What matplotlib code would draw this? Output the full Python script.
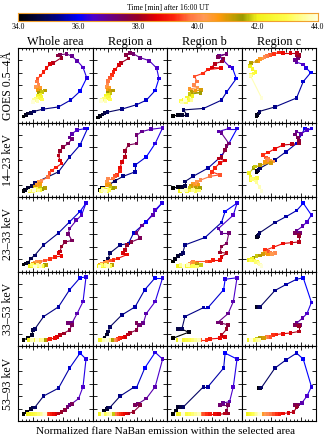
import numpy as np
import matplotlib
matplotlib.use("Agg")
import matplotlib.pyplot as plt
from matplotlib.colors import LinearSegmentedColormap, Normalize
from matplotlib.collections import LineCollection
from matplotlib.ticker import MultipleLocator

# ---------------- data ----------------
times = [34.0, 34.25, 34.5, 34.75, 35.0, 35.25, 35.5, 35.75, 36.0, 36.25, 36.5,
         36.75, 37.0, 37.25, 37.5, 37.75, 38.0, 38.25, 38.5, 38.75, 39.0, 39.25,
         39.5, 39.75, 40.0, 40.25, 40.5, 40.75, 41.0, 41.25, 41.5, 41.75, 42.0,
         42.25, 42.5, 42.75, 43.0, 43.25, 43.5, 43.75, 44.0]

columns = ["Whole area", "Region a", "Region b", "Region c"]
rows = ["GOES 0.5–4Å", "14–23 keV", "23–33 keV", "33–53 keV", "53–93 keV"]
cbar_ticks = [34.0, 36.0, 38.0, 40.0, 42.0, 44.0]

# GOES
goes_whole = [(0.07,0.08),(0.10,0.10),(0.13,0.12),(0.17,0.13),(0.21,0.15),
              (0.33,0.18),(0.54,0.21),(0.70,0.30),(0.83,0.42),
              (0.92,0.60),(0.87,0.74),(0.79,0.83),
              (0.72,0.89),(0.65,0.92),(0.56,0.91),(0.53,0.90),(0.58,0.87),
              (0.47,0.80),(0.43,0.79),(0.38,0.73),(0.34,0.68),(0.30,0.63),
              (0.26,0.59),(0.25,0.55),
              (0.27,0.51),(0.24,0.48),(0.29,0.46),(0.26,0.44),(0.30,0.42),
              (0.36,0.43),(0.28,0.40),(0.32,0.41),
              (0.30,0.37),(0.26,0.36),(0.31,0.34),(0.27,0.33),(0.32,0.31),
              (0.24,0.32),(0.21,0.30),(0.26,0.29),(0.20,0.28)]
goes_a = [(0.07,0.07),(0.10,0.09),(0.13,0.11),(0.16,0.13),(0.20,0.14),
          (0.39,0.18),(0.59,0.24),(0.72,0.30),(0.84,0.43),
          (0.89,0.59),(0.86,0.73),(0.76,0.83),
          (0.64,0.87),(0.55,0.92),(0.50,0.93),(0.45,0.91),(0.48,0.86),
          (0.38,0.80),(0.35,0.77),(0.30,0.71),(0.28,0.68),(0.26,0.64),
          (0.23,0.60),(0.21,0.56),
          (0.20,0.51),(0.19,0.48),(0.22,0.46),(0.20,0.44),(0.23,0.42),
          (0.27,0.43),(0.20,0.40),(0.24,0.39),
          (0.21,0.37),(0.17,0.36),(0.22,0.34),(0.18,0.33),(0.23,0.31),
          (0.15,0.32),(0.12,0.30),(0.17,0.29),(0.11,0.29)]
goes_b = [(0.08,0.09),(0.15,0.10),(0.20,0.10),(0.27,0.10),(0.22,0.17),
          (0.49,0.19),(0.73,0.30),(0.80,0.41),(0.93,0.59),
          (0.88,0.73),(0.84,0.75),(0.75,0.84),
          (0.70,0.90),(0.80,0.92),(0.68,0.88),(0.76,0.86),(0.74,0.82),
          (0.64,0.79),(0.60,0.74),(0.72,0.73),(0.55,0.71),(0.48,0.66),
          (0.37,0.62),(0.40,0.55),
          (0.36,0.50),(0.41,0.47),(0.30,0.45),(0.38,0.43),(0.46,0.44),
          (0.33,0.41),(0.45,0.40),(0.30,0.38),
          (0.34,0.36),(0.27,0.33),(0.22,0.31),(0.30,0.30),(0.18,0.29),
          (0.25,0.28),(0.33,0.30),(0.20,0.27),(0.24,0.30)]
goes_c = [(0.20,0.08),(0.21,0.10),(0.23,0.12),(0.24,0.14),(0.24,0.15),
          (0.45,0.21),(0.74,0.33),(0.83,0.55),(0.93,0.67),
          (0.87,0.73),(0.83,0.78),(0.74,0.81),
          (0.72,0.84),(0.76,0.86),(0.77,0.89),(0.74,0.91),(0.77,0.91),
          (0.75,0.93),(0.66,0.93),(0.56,0.93),(0.50,0.94),(0.44,0.92),
          (0.38,0.91),(0.34,0.89),
          (0.31,0.88),(0.28,0.86),(0.25,0.85),(0.22,0.83),(0.20,0.82),
          (0.13,0.80),(0.12,0.78),(0.11,0.76),
          (0.11,0.75),(0.15,0.72),(0.19,0.68),(0.16,0.66),(0.12,0.64),
          (0.13,0.63),(0.12,0.62),(0.12,0.63),(0.27,0.33)]

# 14-23 keV
hxr1_whole = [(0.07,0.08),(0.09,0.10),(0.13,0.12),(0.18,0.15),(0.22,0.19),
              (0.54,0.34),(0.69,0.54),(0.83,0.70),(0.93,0.92),
              (0.90,0.92),(0.79,0.90),(0.72,0.85),
              (0.69,0.80),(0.72,0.78),(0.67,0.72),(0.60,0.67),(0.56,0.62),
              (0.54,0.56),(0.56,0.49),(0.58,0.45),(0.51,0.40),(0.45,0.36),
              (0.42,0.32),(0.40,0.27),
              (0.31,0.22),(0.27,0.20),(0.25,0.16),(0.29,0.18),(0.22,0.14),
              (0.36,0.12),(0.32,0.11),(0.30,0.12),
              (0.22,0.10),(0.18,0.09),(0.29,0.10),(0.16,0.08),(0.24,0.11),
              (0.20,0.08),(0.27,0.09),(0.15,0.09),(0.21,0.10)]
hxr1_a = [(0.10,0.10),(0.12,0.12),(0.14,0.13),(0.21,0.16),(0.30,0.22),
          (0.41,0.28),(0.57,0.34),(0.57,0.43),(0.72,0.54),
          (0.84,0.72),(0.94,0.93),(0.78,0.91),
          (0.66,0.88),(0.59,0.83),(0.59,0.72),(0.48,0.70),(0.43,0.62),
          (0.43,0.54),(0.39,0.47),(0.37,0.40),(0.37,0.35),(0.33,0.30),
          (0.30,0.28),(0.27,0.25),
          (0.21,0.25),(0.19,0.21),(0.22,0.18),(0.19,0.16),(0.24,0.15),
          (0.30,0.13),(0.27,0.12),(0.24,0.13),
          (0.12,0.09),(0.16,0.10),(0.20,0.08),(0.14,0.11),(0.22,0.10),
          (0.11,0.08),(0.18,0.09),(0.13,0.10),(0.17,0.08)]
hxr1_b = [(0.08,0.12),(0.15,0.14),(0.20,0.14),(0.24,0.15),(0.24,0.21),
          (0.35,0.28),(0.55,0.39),(0.73,0.55),(0.83,0.72),
          (0.94,0.92),(0.83,0.92),(0.69,0.88),
          (0.73,0.86),(0.83,0.72),(0.80,0.69),(0.78,0.63),(0.73,0.54),
          (0.69,0.52),(0.78,0.49),(0.71,0.46),(0.64,0.39),(0.60,0.34),
          (0.71,0.30),(0.58,0.28),
          (0.45,0.23),(0.40,0.20),(0.35,0.18),(0.42,0.16),(0.32,0.15),
          (0.38,0.13),(0.44,0.12),(0.30,0.12),
          (0.17,0.08),(0.22,0.09),(0.27,0.08),(0.32,0.09),(0.38,0.08),
          (0.43,0.09),(0.35,0.10),(0.25,0.10),(0.20,0.09)]
hxr1_c = [(0.20,0.34),(0.21,0.35),(0.22,0.36),(0.23,0.37),(0.25,0.39),
          (0.45,0.50),(0.60,0.61),(0.74,0.72),(0.85,0.92),
          (0.94,0.92),(0.88,0.90),(0.80,0.85),
          (0.74,0.88),(0.72,0.84),(0.76,0.80),(0.77,0.75),(0.77,0.72),
          (0.68,0.71),(0.56,0.70),(0.45,0.65),(0.36,0.60),(0.29,0.57),
          (0.33,0.53),(0.36,0.51),
          (0.34,0.50),(0.43,0.48),(0.39,0.49),(0.32,0.47),(0.40,0.46),
          (0.25,0.43),(0.16,0.39),(0.18,0.41),
          (0.10,0.32),(0.12,0.27),(0.12,0.23),(0.21,0.26),(0.17,0.25),
          (0.14,0.24),(0.20,0.20),(0.24,0.14),(0.27,0.08)]

# 23-33 keV
hxr2_whole = [(0.07,0.10),(0.10,0.11),(0.13,0.12),(0.17,0.18),(0.22,0.22),
              (0.34,0.36),(0.54,0.52),(0.69,0.67),(0.83,0.81),
              (0.91,0.92),(0.85,0.76),(0.78,0.69),
              (0.69,0.58),(0.67,0.51),(0.72,0.42),(0.63,0.40),(0.58,0.34),
              (0.56,0.27),(0.54,0.25),(0.58,0.21),(0.49,0.20),(0.43,0.17),
              (0.36,0.15),(0.29,0.14),
              (0.25,0.13),(0.22,0.12),(0.28,0.12),(0.20,0.11),(0.24,0.10),
              (0.38,0.09),(0.35,0.09),(0.33,0.08),
              (0.16,0.08),(0.20,0.07),(0.24,0.08),(0.28,0.07),(0.32,0.08),
              (0.18,0.09),(0.26,0.09),(0.30,0.08),(0.22,0.07)]
hxr2_a = [(0.10,0.10),(0.13,0.11),(0.16,0.13),(0.21,0.18),(0.23,0.25),
          (0.37,0.36),(0.48,0.38),(0.55,0.52),(0.72,0.67),
          (0.93,0.92),(0.84,0.83),(0.81,0.76),
          (0.66,0.62),(0.59,0.52),(0.64,0.45),(0.52,0.40),(0.46,0.36),
          (0.43,0.29),(0.41,0.25),(0.46,0.23),(0.34,0.18),(0.28,0.16),
          (0.24,0.15),(0.19,0.14),
          (0.16,0.12),(0.12,0.11),(0.18,0.12),(0.10,0.10),(0.14,0.10),
          (0.26,0.09),(0.23,0.08),(0.20,0.09),
          (0.08,0.08),(0.11,0.07),(0.15,0.08),(0.19,0.07),(0.23,0.08),
          (0.12,0.09),(0.17,0.09),(0.21,0.08),(0.09,0.07)]
hxr2_b = [(0.08,0.14),(0.11,0.17),(0.15,0.21),(0.19,0.23),(0.21,0.25),
          (0.24,0.36),(0.51,0.46),(0.73,0.66),(0.78,0.81),
          (0.94,0.92),(0.89,0.76),(0.69,0.58),
          (0.73,0.52),(0.83,0.52),(0.80,0.38),(0.73,0.34),(0.71,0.26),
          (0.80,0.25),(0.73,0.20),(0.71,0.16),(0.62,0.16),(0.58,0.14),
          (0.53,0.14),(0.35,0.14),
          (0.33,0.12),(0.30,0.11),(0.36,0.12),(0.28,0.10),(0.40,0.11),
          (0.44,0.09),(0.40,0.08),(0.46,0.09),
          (0.15,0.08),(0.20,0.07),(0.25,0.08),(0.30,0.07),(0.35,0.08),
          (0.40,0.07),(0.18,0.09),(0.28,0.09),(0.22,0.08)]
hxr2_c = [(0.20,0.46),(0.21,0.47),(0.22,0.48),(0.23,0.50),(0.24,0.52),
          (0.45,0.66),(0.60,0.74),(0.74,0.82),(0.83,0.92),
          (0.94,0.76),(0.88,0.67),(0.82,0.61),
          (0.74,0.55),(0.79,0.52),(0.72,0.52),(0.77,0.50),(0.77,0.48),
          (0.77,0.40),(0.67,0.39),(0.56,0.38),(0.43,0.33),(0.32,0.29),
          (0.36,0.27),(0.39,0.25),
          (0.45,0.25),(0.41,0.24),(0.32,0.25),(0.36,0.23),(0.29,0.24),
          (0.25,0.22),(0.16,0.19),(0.20,0.21),
          (0.10,0.16),(0.14,0.17),(0.21,0.14),(0.17,0.15),(0.12,0.15),
          (0.19,0.13),(0.23,0.12),(0.25,0.10),(0.27,0.08)]

# 33-53 keV
hxr3_whole = [(0.07,0.09),(0.13,0.11),(0.18,0.15),(0.20,0.22),(0.22,0.23),
              (0.34,0.40),(0.54,0.53),(0.69,0.76),(0.83,0.92),
              (0.91,0.93),(0.87,0.60),(0.79,0.44),
              (0.72,0.31),(0.67,0.31),(0.72,0.29),(0.69,0.22),(0.61,0.175),
              (0.56,0.15),(0.52,0.13),(0.49,0.11),(0.43,0.10),(0.38,0.09),
              (0.36,0.09),(0.34,0.09),
              (0.31,0.09),(0.28,0.085),(0.26,0.09),(0.24,0.085),(0.22,0.09),
              (0.36,0.086),(0.34,0.086),(0.32,0.086),
              (0.14,0.086),(0.17,0.086),(0.20,0.086),(0.23,0.086),(0.26,0.086),
              (0.29,0.086),(0.32,0.086),(0.18,0.086),(0.25,0.086)]
hxr3_a = [(0.10,0.09),(0.16,0.12),(0.19,0.16),(0.21,0.20),(0.23,0.26),
          (0.39,0.42),(0.57,0.53),(0.70,0.76),(0.84,0.92),
          (0.94,0.92),(0.84,0.60),(0.72,0.44),
          (0.68,0.31),(0.64,0.29),(0.59,0.31),(0.59,0.22),(0.50,0.18),
          (0.47,0.16),(0.43,0.13),(0.40,0.12),(0.37,0.11),(0.34,0.10),
          (0.32,0.09),(0.30,0.09),
          (0.29,0.09),(0.27,0.086),(0.25,0.09),(0.23,0.086),(0.21,0.09),
          (0.26,0.086),(0.24,0.086),(0.22,0.086),
          (0.10,0.086),(0.12,0.086),(0.14,0.086),(0.16,0.086),(0.18,0.086),
          (0.20,0.086),(0.22,0.086),(0.15,0.086),(0.19,0.086)]
hxr3_b = [(0.08,0.11),(0.29,0.19),(0.20,0.23),(0.15,0.23),(0.20,0.24),
          (0.24,0.40),(0.49,0.52),(0.55,0.52),(0.76,0.76),
          (0.78,0.90),(0.94,0.92),(0.89,0.60),
          (0.82,0.44),(0.68,0.32),(0.73,0.31),(0.82,0.29),(0.80,0.23),
          (0.73,0.15),(0.78,0.13),(0.71,0.11),(0.58,0.10),(0.53,0.086),
          (0.44,0.086),(0.36,0.086),
          (0.30,0.086),(0.27,0.086),(0.24,0.086),(0.33,0.086),(0.21,0.086),
          (0.35,0.086),(0.38,0.086),(0.41,0.086),
          (0.15,0.086),(0.19,0.086),(0.23,0.086),(0.27,0.086),(0.31,0.086),
          (0.35,0.086),(0.39,0.086),(0.43,0.086),(0.17,0.086)]
hxr3_c = [(0.20,0.53),(0.21,0.53),(0.22,0.53),(0.23,0.53),(0.25,0.53),
          (0.45,0.75),(0.60,0.83),(0.74,0.90),(0.83,0.92),
          (0.94,0.59),(0.88,0.44),(0.82,0.38),
          (0.74,0.31),(0.79,0.29),(0.72,0.29),(0.76,0.28),(0.77,0.27),
          (0.77,0.20),(0.66,0.18),(0.56,0.17),(0.47,0.16),(0.42,0.15),
          (0.38,0.13),(0.34,0.13),
          (0.29,0.12),(0.32,0.12),(0.27,0.11),(0.24,0.11),(0.30,0.11),
          (0.25,0.11),(0.22,0.10),(0.20,0.10),
          (0.10,0.086),(0.12,0.086),(0.14,0.086),(0.16,0.086),(0.18,0.086),
          (0.20,0.086),(0.22,0.086),(0.24,0.086),(0.13,0.086)]

# 53-93 keV
hxr4_whole = [(0.07,0.09),(0.12,0.12),(0.17,0.16),(0.20,0.18),(0.22,0.18),
              (0.34,0.335),(0.54,0.44),(0.69,0.71),(0.83,0.91),
              (0.91,0.83),(0.87,0.46),(0.81,0.30),
              (0.69,0.21),(0.66,0.19),(0.72,0.23),(0.63,0.15),(0.58,0.12),
              (0.54,0.10),(0.50,0.09),(0.47,0.09),(0.43,0.09),(0.40,0.09),
              (0.38,0.09),(0.35,0.09),
              (0.31,0.09),(0.28,0.09),(0.25,0.09),(0.22,0.09),(0.19,0.09),
              (0.30,0.09),(0.27,0.09),(0.33,0.09),
              (0.13,0.09),(0.16,0.09),(0.19,0.09),(0.22,0.09),(0.25,0.09),
              (0.28,0.09),(0.31,0.09),(0.34,0.09),(0.36,0.09)]
hxr4_a = [(0.10,0.09),(0.15,0.13),(0.19,0.16),(0.21,0.18),(0.23,0.18),
          (0.37,0.335),(0.55,0.45),(0.59,0.45),(0.70,0.71),
          (0.84,0.92),(0.94,0.83),(0.84,0.46),
          (0.72,0.30),(0.61,0.23),(0.57,0.21),(0.64,0.21),(0.55,0.125),
          (0.48,0.10),(0.45,0.10),(0.41,0.09),(0.38,0.09),(0.36,0.09),
          (0.33,0.09),(0.30,0.09),
          (0.28,0.09),(0.25,0.09),(0.22,0.09),(0.19,0.09),(0.16,0.09),
          (0.26,0.09),(0.24,0.09),(0.27,0.09),
          (0.10,0.09),(0.12,0.09),(0.14,0.09),(0.16,0.09),(0.18,0.09),
          (0.20,0.09),(0.22,0.09),(0.24,0.09),(0.13,0.09)]
hxr4_b = [(0.08,0.09),(0.12,0.14),(0.15,0.19),(0.19,0.19),(0.22,0.19),
          (0.49,0.46),(0.55,0.46),(0.76,0.71),(0.78,0.91),
          (0.94,0.83),(0.89,0.46),(0.84,0.26),
          (0.75,0.24),(0.71,0.21),(0.82,0.21),(0.80,0.14),(0.82,0.10),
          (0.78,0.10),(0.70,0.09),(0.64,0.09),(0.58,0.09),(0.53,0.09),
          (0.49,0.09),(0.45,0.09),
          (0.41,0.09),(0.37,0.09),(0.33,0.09),(0.29,0.09),(0.25,0.09),
          (0.40,0.09),(0.36,0.09),(0.32,0.09),
          (0.15,0.09),(0.19,0.09),(0.23,0.09),(0.27,0.09),(0.31,0.09),
          (0.35,0.09),(0.39,0.09),(0.43,0.09),(0.21,0.09)]
hxr4_c = [(0.23,0.44),(0.24,0.44),(0.25,0.44),(0.26,0.45),(0.27,0.45),
          (0.45,0.71),(0.60,0.82),(0.74,0.91),(0.83,0.83),
          (0.94,0.46),(0.88,0.335),(0.81,0.24),
          (0.74,0.21),(0.76,0.22),(0.72,0.21),(0.75,0.20),(0.74,0.18),
          (0.70,0.12),(0.63,0.11),(0.56,0.10),(0.51,0.095),(0.47,0.09),
          (0.43,0.09),(0.39,0.09),
          (0.34,0.09),(0.31,0.09),(0.28,0.09),(0.25,0.09),(0.22,0.09),
          (0.20,0.09),(0.18,0.09),(0.16,0.09),
          (0.09,0.09),(0.11,0.09),(0.13,0.09),(0.15,0.09),(0.17,0.09),
          (0.19,0.09),(0.21,0.09),(0.23,0.09),(0.25,0.09)]

panels = [[goes_whole, goes_a, goes_b, goes_c],
          [hxr1_whole, hxr1_a, hxr1_b, hxr1_c],
          [hxr2_whole, hxr2_a, hxr2_b, hxr2_c],
          [hxr3_whole, hxr3_a, hxr3_b, hxr3_c],
          [hxr4_whole, hxr4_a, hxr4_b, hxr4_c]]

# ---------------- style ----------------
cstops = [(0.00, (0.00, 0.00, 0.00)),
          (0.08, (0.02, 0.02, 0.30)),
          (0.14, (0.00, 0.00, 0.60)),
          (0.20, (0.00, 0.00, 1.00)),
          (0.25, (0.30, 0.00, 0.80)),
          (0.30, (0.40, 0.00, 0.55)),
          (0.36, (0.50, 0.00, 0.30)),
          (0.40, (0.60, 0.00, 0.15)),
          (0.46, (0.90, 0.00, 0.00)),
          (0.52, (1.00, 0.15, 0.05)),
          (0.57, (1.00, 0.45, 0.25)),
          (0.62, (1.00, 0.60, 0.35)),
          (0.67, (1.00, 0.60, 0.05)),
          (0.72, (0.75, 0.62, 0.00)),
          (0.75, (0.60, 0.60, 0.00)),
          (0.80, (0.95, 0.95, 0.10)),
          (0.90, (1.00, 1.00, 0.30)),
          (1.00, (1.00, 1.00, 0.85))]
cmap = LinearSegmentedColormap.from_list("flare", cstops)
norm = Normalize(vmin=34.0, vmax=44.0)

plt.rcParams['font.family'] = ['Liberation Serif', 'DejaVu Serif']

W, H = 332.0, 443.0
fig = plt.figure(figsize=(W / 100, H / 100), dpi=100)

x0, y0, pw, ph = 18.3, 48.0, 74.4, 74.6
t = np.array(times)
cols_t = cmap(norm(t))

for r in range(5):
    for c in range(4):
        left = (x0 + c * pw) / W
        bottom = 1 - (y0 + (r + 1) * ph) / H
        ax = fig.add_axes([left, bottom, pw / W, ph / H])
        pts = np.array(panels[r][c])
        segs = np.stack([pts[:-1], pts[1:]], axis=1)
        lc = LineCollection(segs, colors=cols_t[:-1], linewidths=0.8, zorder=2)
        ax.add_collection(lc)
        ax.scatter(pts[:, 0], pts[:, 1], c=t, cmap=cmap, norm=norm, marker='s',
                   s=7, linewidths=0, zorder=3)
        ax.set_xlim(0, 1)
        ax.set_ylim(0, 1)
        ax.xaxis.set_major_locator(MultipleLocator(0.2))
        ax.xaxis.set_minor_locator(MultipleLocator(0.05))
        ax.yaxis.set_major_locator(MultipleLocator(1 / 6))
        ax.yaxis.set_minor_locator(MultipleLocator(1 / 6))
        ax.tick_params(which='both', direction='in', top=True, right=True,
                       labelbottom=False, labelleft=False, width=0.6, color='black')
        ax.tick_params(which='major', length=3)
        ax.tick_params(which='minor', length=1.6)
        for s in ax.spines.values():
            s.set_linewidth(0.8)
        if r == 0:
            ax.set_title(columns[c], fontsize=8.8, pad=2)
        if c == 0:
            ax.set_ylabel(rows[r], fontsize=8.5, labelpad=3)

# colorbar
cax = fig.add_axes([18 / W, 1 - 21 / H, 300 / W, 8 / H])
grad = np.linspace(34.0, 44.0, 300).reshape(1, -1)
cax.imshow(grad, aspect='auto', cmap=cmap, norm=norm, extent=[34.0, 44.0, 0, 1])
cax.set_xlim(34.0, 44.0)
cax.set_yticks([])
cax.set_xticks(cbar_ticks)
cax.set_xticklabels([f"{v:.1f}" for v in cbar_ticks], fontsize=5.5)
cax.tick_params(axis='x', length=0, pad=1.5)
for s in cax.spines.values():
    s.set_edgecolor('#f0a030')
    s.set_linewidth(0.8)
cax.set_title("Time [min] after 16:00 UT", fontsize=5.5, pad=2)

fig.text(0.5, 1 - 432 / H, "Normalized flare NaBan emission within the selected area",
         ha='center', va='center', fontsize=8)

fig.savefig("out.png", dpi=100)
